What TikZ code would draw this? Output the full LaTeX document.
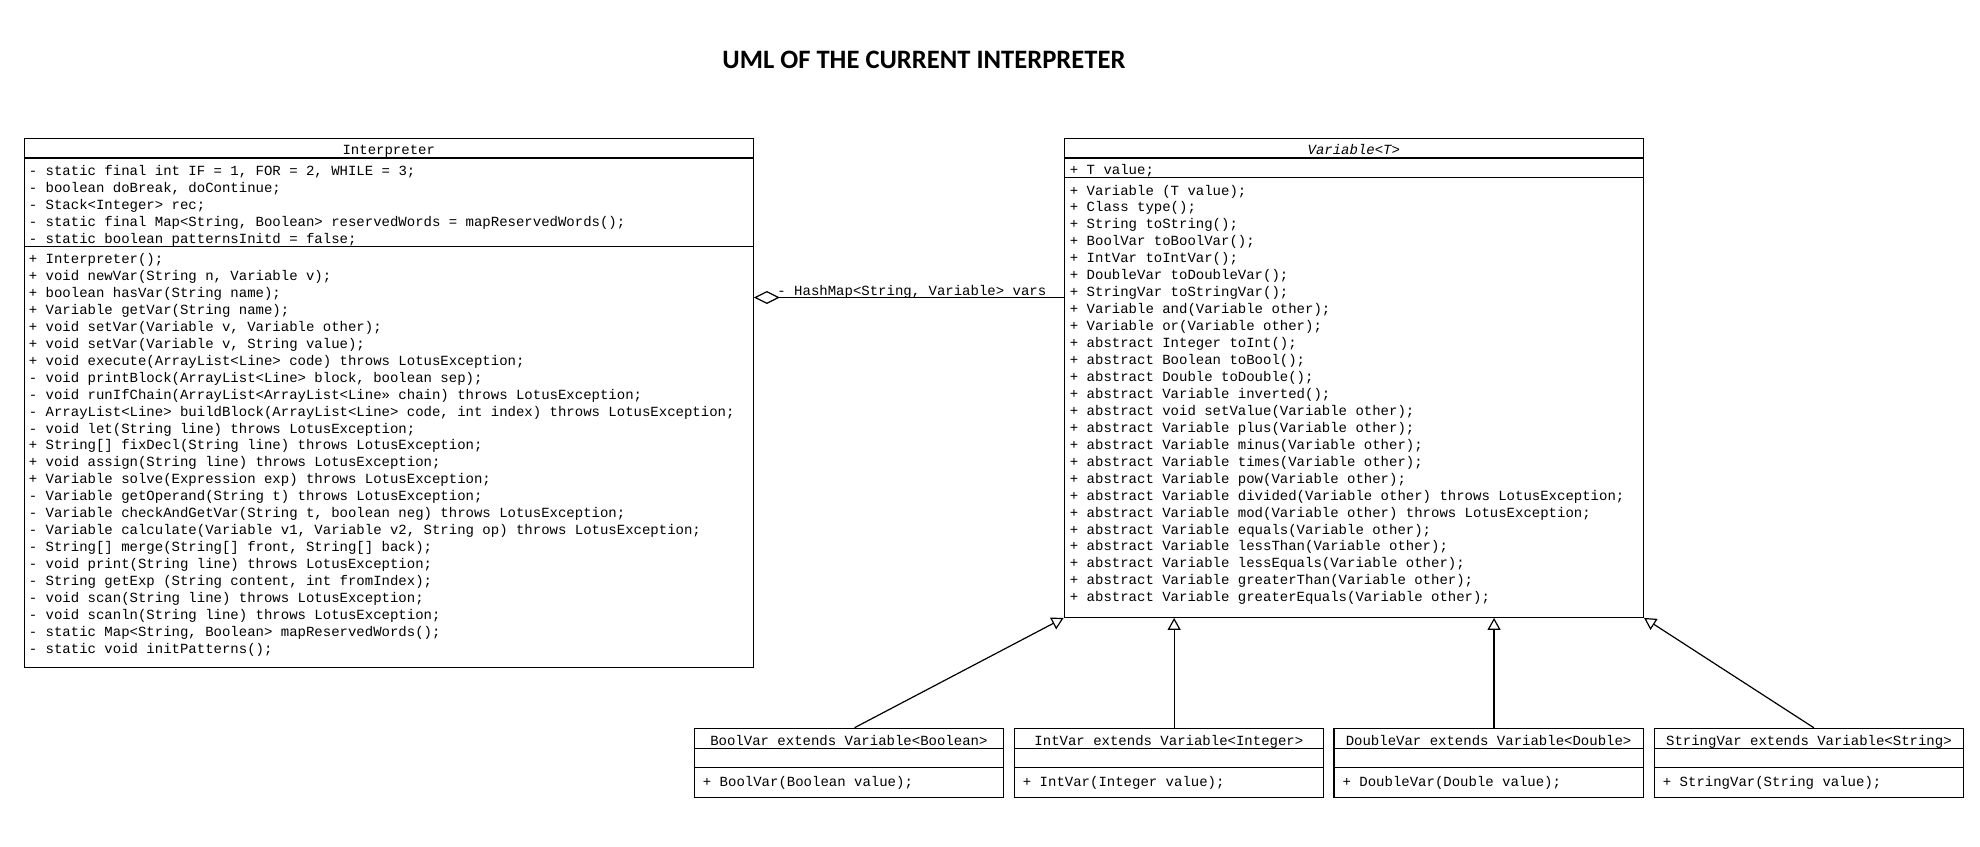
\documentclass[tikz,border=0pt]{standalone}
\usepackage{fontspec}
\newfontfamily\codefont{Liberation Mono}
\newfontfamily\titlefont{Carlito}
\usetikzlibrary{arrows.meta,fit}
\begin{document}
\begin{tikzpicture}[x=0.5pt,y=-0.5pt,
  box/.style={draw, line width=0.6pt, inner sep=0pt},
  txt/.style={font=\codefont\fontsize{7}{8.5}\selectfont, inner sep=0pt, anchor=base west},
  ctxt/.style={txt, anchor=base},
  ttl/.style={font=\titlefont\bfseries\fontsize{13.3}{15}\selectfont, inner sep=0pt, anchor=base},
  sepline/.style={line width=0.6pt},
  gen/.style={-{Triangle[open,length=6pt,width=6.5pt]}, line width=0.6pt},
  agg/.style={-{Diamond[open,length=13pt,width=6.5pt]}, line width=0.6pt}]
\useasboundingbox (0,0) rectangle (1980,846);

% title
\node[ttl] (title) at (924,68.5) {UML OF THE CURRENT INTERPRETER};

% ---------------- Interpreter ----------------
\node[box, fit={(24.3,138.5)(753.3,667.5)}] (interp) {};
\node[ctxt] (interpname) at (388.8,154.5) {Interpreter};
\draw[sepline] ([yshift=-10pt]interp.north west) -- ([yshift=-10pt]interp.north east);
\draw[sepline] ([yshift=-54.1pt]interp.north west) -- ([yshift=-54.1pt]interp.north east);
\foreach \t [count=\i from 0] in {
  {- static final int IF = 1, FOR = 2, WHILE = 3;},
  {- boolean doBreak, doContinue;},
  {- Stack<Integer> rec;},
  {- static final Map<String, Boolean> reservedWords = mapReservedWords();},
  {- static boolean patternsInitd = false;}}
  \node[txt] (ia\i) at (28.5,{175.5+\i*16.9}) {\t};
\foreach \t [count=\i from 0] in {
  {+ Interpreter();},
  {+ void newVar(String n, Variable v);},
  {+ boolean hasVar(String name);},
  {+ Variable getVar(String name);},
  {+ void setVar(Variable v, Variable other);},
  {+ void setVar(Variable v, String value);},
  {+ void execute(ArrayList<Line> code) throws LotusException;},
  {- void printBlock(ArrayList<Line> block, boolean sep);},
  {- void runIfChain(ArrayList<ArrayList<Line» chain) throws LotusException;},
  {- ArrayList<Line> buildBlock(ArrayList<Line> code, int index) throws LotusException;},
  {- void let(String line) throws LotusException;},
  {+ String[] fixDecl(String line) throws LotusException;},
  {+ void assign(String line) throws LotusException;},
  {+ Variable solve(Expression exp) throws LotusException;},
  {- Variable getOperand(String t) throws LotusException;},
  {- Variable checkAndGetVar(String t, boolean neg) throws LotusException;},
  {- Variable calculate(Variable v1, Variable v2, String op) throws LotusException;},
  {- String[] merge(String[] front, String[] back);},
  {- void print(String line) throws LotusException;},
  {- String getExp (String content, int fromIndex);},
  {- void scan(String line) throws LotusException;},
  {- void scanln(String line) throws LotusException;},
  {- static Map<String, Boolean> mapReservedWords();},
  {- static void initPatterns();}}
  \node[txt] (im\i) at (28.5,{263.5+\i*16.95}) {\t};

% ---------------- Variable<T> ----------------
\node[box, fit={(1064.3,138.5)(1643.4,617.3)}] (var) {};
\node[ctxt, font=\codefont\itshape\fontsize{7}{8.5}\selectfont] (varname) at (1353.8,154.5) {Variable<T>};
\draw[sepline] ([yshift=-10pt]var.north west) -- ([yshift=-10pt]var.north east);
\draw[sepline] ([yshift=-19.9pt]var.north west) -- ([yshift=-19.9pt]var.north east);
\node[txt] (va0) at (1069.5,174.5) {+ T value;};
\foreach \t [count=\i from 0] in {
  {+ Variable (T value);},
  {+ Class type();},
  {+ String toString();},
  {+ BoolVar toBoolVar();},
  {+ IntVar toIntVar();},
  {+ DoubleVar toDoubleVar();},
  {+ StringVar toStringVar();},
  {+ Variable and(Variable other);},
  {+ Variable or(Variable other);},
  {+ abstract Integer toInt();},
  {+ abstract Boolean toBool();},
  {+ abstract Double toDouble();},
  {+ abstract Variable inverted();},
  {+ abstract void setValue(Variable other);},
  {+ abstract Variable plus(Variable other);},
  {+ abstract Variable minus(Variable other);},
  {+ abstract Variable times(Variable other);},
  {+ abstract Variable pow(Variable other);},
  {+ abstract Variable divided(Variable other) throws LotusException;},
  {+ abstract Variable mod(Variable other) throws LotusException;},
  {+ abstract Variable equals(Variable other);},
  {+ abstract Variable lessThan(Variable other);},
  {+ abstract Variable lessEquals(Variable other);},
  {+ abstract Variable greaterThan(Variable other);},
  {+ abstract Variable greaterEquals(Variable other);}}
  \node[txt] (vm\i) at (1069.5,{195+\i*16.95}) {\t};

% ---------------- subclasses ----------------
\foreach \n/\l/\name/\ctor in {
  bool/694.3/{BoolVar extends Variable<Boolean>}/{+ BoolVar(Boolean value);},
  int/1014.3/{IntVar extends Variable<Integer>}/{+ IntVar(Integer value);},
  double/1334.0/{DoubleVar extends Variable<Double>}/{+ DoubleVar(Double value);},
  string/1654.3/{StringVar extends Variable<String>}/{+ StringVar(String value);}}
{
  \node[box, fit={(\l,728.3)({\l+309.3},797.3)}] (\n) {};
  \node[ctxt] (\n name) at ({\l+154.6},745) {\name};
  \draw[sepline] ([yshift=-10.35pt]\n.north west) -- ([yshift=-10.35pt]\n.north east);
  \draw[sepline] ([yshift=-20pt]\n.north west) -- ([yshift=-20pt]\n.north east);
  \node[txt] (\n ctor) at ({\l+8.2},786.5) {\ctor};
}

% ---------------- connectors ----------------
\draw[agg] ([yshift=-79.8pt]var.north west) -- ([yshift=-79.8pt]interp.north east);
\node[txt] (agglbl) at (777,295) {- HashMap<String, Variable> vars};

\coordinate (boolTop) at ([xshift=2.8pt]bool.north);
\coordinate (intTop) at ([xshift=2.6pt]int.north);
\coordinate (doubleTop) at ([xshift=2.7pt]double.north);
\coordinate (stringTop) at ([xshift=2.4pt]string.north);
\draw[gen] (boolTop) -- (var.south west);
\draw[gen] (intTop) -- (intTop |- var.south);
\draw[gen] (doubleTop) -- (doubleTop |- var.south);
\draw[gen] (stringTop) -- (var.south east);
\end{tikzpicture}
\end{document}
